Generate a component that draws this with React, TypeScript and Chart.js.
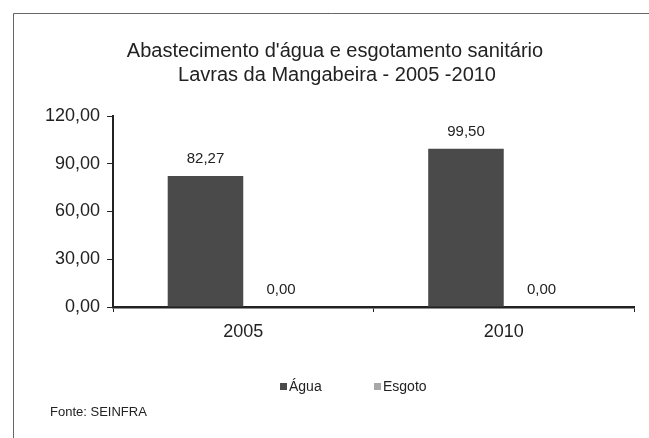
import React, { useEffect, useRef } from "react";
import { Chart, registerables } from "chart.js";

Chart.register(...registerables);

const categories = ["2005", "2010"];
const aguaValues = [82.27, 99.5];
const esgotoValues = [0, 0];
const seriesNames = ["Água", "Esgoto"];
const titleLines = ["Abastecimento d'água e esgotamento sanitário", "Lavras da Mangabeira - 2005 -2010"];
const sourceText = "Fonte: SEINFRA";

const fmt = (v: number) => v.toFixed(2).replace(".", ",");
const FONT = "'Liberation Sans', Arial, sans-serif";
const TEXT = "#222";

const decorPlugin = {
  id: "decor",
  beforeDraw(chart: any) {
    const ctx = chart.ctx;
    ctx.save();
    ctx.fillStyle = "#fff";
    ctx.fillRect(0, 0, chart.width, chart.height);
    ctx.strokeStyle = "#666";
    ctx.lineWidth = 1;
    ctx.beginPath();
    ctx.moveTo(13.5, chart.height);
    ctx.lineTo(13.5, 13.5);
    ctx.lineTo(chart.width, 13.5);
    ctx.stroke();
    ctx.restore();
  },
  afterDraw(chart: any) {
    const ctx = chart.ctx;
    ctx.save();
    ctx.fillStyle = TEXT;
    ctx.textAlign = "center";
    ctx.textBaseline = "middle";
    ctx.font = `20px ${FONT}`;
    ctx.fillText(titleLines[0], 335, 51);
    ctx.fillText(titleLines[1], 337, 75);

    // data labels
    ctx.font = `15px ${FONT}`;
    ctx.textBaseline = "middle";
    chart.data.datasets.forEach((ds: any, i: number) => {
      const meta = chart.getDatasetMeta(i);
      meta.data.forEach((bar: any, j: number) => {
        ctx.fillText(fmt(ds.data[j]), bar.x, bar.y - 17);
      });
    });

    // legend
    const legendItems = [
      { name: seriesNames[0], color: chart.data.datasets[0].backgroundColor, x: 280 },
      { name: seriesNames[1], color: chart.data.datasets[1].backgroundColor, x: 374 },
    ];
    ctx.font = `14px ${FONT}`;
    ctx.textAlign = "left";
    ctx.textBaseline = "middle";
    legendItems.forEach((it) => {
      ctx.fillStyle = it.color;
      ctx.fillRect(it.x, 383, 7, 7);
      ctx.fillStyle = TEXT;
      ctx.fillText(it.name, it.x + 9, 387);
    });

    // source
    ctx.font = `13px ${FONT}`;
    ctx.fillText(sourceText, 50, 412);
    ctx.restore();
  },
};

export default function App() {
  const ref = useRef<HTMLCanvasElement>(null);
  useEffect(() => {
    if (!ref.current) return;
    const chart = new Chart(ref.current, {
      type: "bar",
      data: {
        labels: categories,
        datasets: [
          { label: seriesNames[0], data: aguaValues, backgroundColor: "#4a4a4a" },
          { label: seriesNames[1], data: esgotoValues, backgroundColor: "#a8a8a8" },
        ],
      },
      options: {
        animation: false,
        responsive: false,
        layout: { padding: { left: 13, top: 116, right: 15, bottom: 91 } },
        datasets: { bar: { categoryPercentage: 0.58, barPercentage: 1 } },
        plugins: { legend: { display: false }, title: { display: false }, tooltip: { enabled: false } },
        scales: {
          x: {
            afterFit: (s: any) => { s.height = 40; },
            grid: { drawOnChartArea: false, tickLength: 5, color: "#222", offset: true },
            border: { color: "#222", width: 2.5 },
            ticks: { color: TEXT, font: { family: FONT, size: 18 }, padding: 9 },
          },
          y: {
            min: 0,
            max: 120,
            afterFit: (s: any) => { s.width = 100; },
            grid: { drawOnChartArea: false, tickLength: 6, color: "#222" },
            border: { color: "#222", width: 2 },
            ticks: {
              stepSize: 30,
              color: TEXT,
              font: { family: FONT, size: 18 },
              padding: 7,
              callback: (v: any) => fmt(Number(v)),
            },
          },
        },
      },
      plugins: [decorPlugin],
    });
    return () => chart.destroy();
  }, []);
  return (
    <div style={{ position: "fixed", left: 0, top: 0, width: 649, height: 438, background: "#fff" }}>
      <canvas ref={ref} width={649} height={438} style={{ display: "block" }} />
    </div>
  );
}
